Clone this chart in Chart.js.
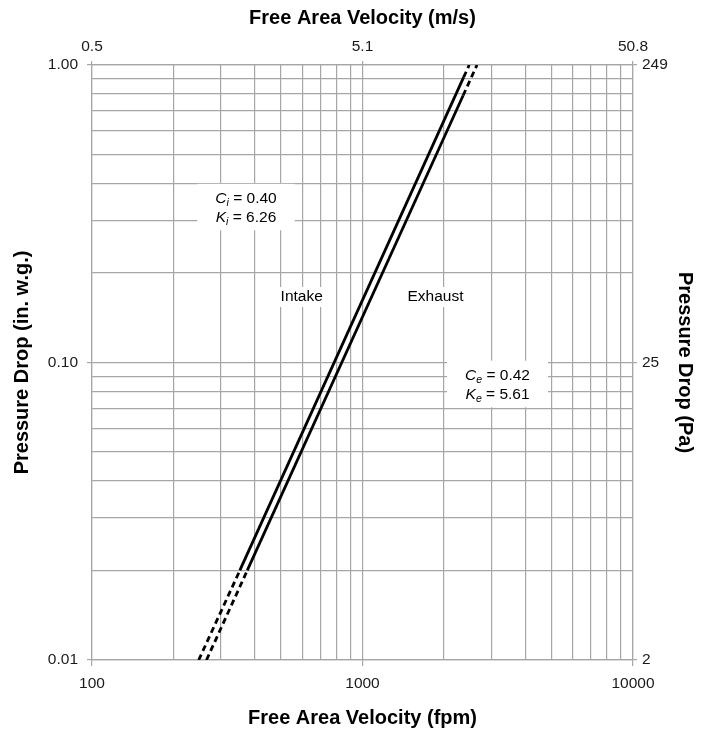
<!DOCTYPE html>
<html>
<head>
<meta charset="utf-8">
<script src="https://cdn.jsdelivr.net/npm/chart.js@4.4.0/dist/chart.umd.min.js"></script>
<style>
html, body { margin: 0; padding: 0; background: #fff; }
#wrap { width: 709px; height: 731px; }
</style>
</head>
<body>
<div id="wrap"><canvas id="chart" width="709" height="731"></canvas></div>
<script>
// Pressure drop vs free area velocity - intake / exhaust louvre curves

// series (fpm, in. w.g.) - first and last segments are dashed
const intakeFpm = [248, 352, 2366, 2480];
const intakeInWg = [0.01, 0.02, 0.91, 1.00];
const exhaustFpm = [265, 375, 2355, 2650];
const exhaustInWg = [0.01, 0.02, 0.79, 1.00];

// grid lines
const xGrid = [100, 200, 300, 400, 500, 600, 700, 800, 900,
    1000, 2000, 3000, 4000, 5000, 6000, 7000, 8000, 9000, 10000];
const yGrid = [0.01, 0.02, 0.03, 0.04, 0.05, 0.06, 0.07, 0.08, 0.09,
    0.1, 0.2, 0.3, 0.4, 0.5, 0.6, 0.7, 0.8, 0.9, 1.0];

// tick labels
const xTickValues = [100, 1000, 10000];
const xTickText = ['100', '1000', '10000'];
const topTickValues = [0.508, 5.08, 50.8];
const topTickText = ['0.5', '5.1', '50.8'];
const yTickValues = [0.01, 0.1, 1];
const yTickText = ['0.01', '0.10', '1.00'];
const rightTickValues = [2.49, 24.9, 249];
const rightTickText = ['2', '25', '249'];

// annotation anchors (fpm, in. w.g.)
const coefNotes = [
    { at: [371, 0.333], rows: [['C', 'i', '0.40'], ['K', 'i', '6.26']] },
    { at: [3157, 0.0847], rows: [['C', 'e', '0.42'], ['K', 'e', '5.61']] }
];
const curveNotes = [
    { at: [596, 0.166], text: 'Intake' },
    { at: [1862, 0.166], text: 'Exhaust' }
];

const FONT = "'Liberation Sans', Arial, Helvetica, sans-serif";
const GRID = '#a6a6a6';
const TXT = 15.5;

function findLabel(vals, texts, v) {
    const i = vals.findIndex(t => Math.abs(t - v) / t < 1e-6);
    return i < 0 ? '' : texts[i];
}

function toPoints(xs, ys) {
    return xs.map((x, i) => ({ x: x, y: ys[i] }));
}

function lineDataset(label, xs, ys) {
    const last = xs.length - 1;
    return {
        label: label,
        data: toPoints(xs, ys),
        borderColor: '#000',
        borderWidth: 2.8,
        pointRadius: 0,
        tension: 0,
        fill: false,
        xAxisID: 'x',
        yAxisID: 'y',
        segment: {
            borderDash: ctx => (ctx.p0DataIndex === 0 || ctx.p1DataIndex === last) ? [6, 4] : []
        }
    };
}

function logAxis(opts) {
    const vals = opts.tickVals, texts = opts.tickText;
    return {
        type: 'logarithmic',
        position: opts.position,
        min: opts.min,
        max: opts.max,
        afterBuildTicks: scale => {
            scale.ticks = opts.grid.map(v => ({ value: v }));
        },
        afterFit: scale => {
            if (opts.width) scale.width = opts.width;
            if (opts.height) scale.height = opts.height;
        },
        ticks: {
            autoSkip: false,
            maxRotation: 0,
            padding: opts.padding,
            color: '#1a1a1a',
            font: { family: FONT, size: TXT },
            callback: v => findLabel(vals, texts, v)
        },
        grid: {
            color: GRID,
            lineWidth: 1.2,
            drawOnChartArea: opts.onArea,
            tickLength: opts.tickLength,
            tickColor: ctx => (ctx.tick && findLabel(vals, texts, ctx.tick.value) !== '') ? GRID : 'rgba(0,0,0,0)'
        },
        border: { color: GRID, width: 1.2 },
        title: {
            display: true,
            text: opts.title,
            color: '#000',
            font: { family: FONT, size: 20, weight: 'bold' },
            padding: opts.titlePad
        }
    };
}

function drawCoef(ctx, cx, cy, rows) {
    const big = TXT + 'px ' + FONT, it = 'italic ' + TXT + 'px ' + FONT, sub = 'italic 10.5px ' + FONT;
    const gap = 18.5;
    const widths = rows.map(r => {
        ctx.font = it; const a = ctx.measureText(r[0]).width;
        ctx.font = sub; const b = ctx.measureText(r[1]).width;
        ctx.font = big; const c = ctx.measureText(' = ' + r[2]).width;
        return [a, b, c];
    });
    const maxW = Math.max(...widths.map(w => w[0] + w[1] + w[2]));
    const top = cy - gap / 2 - 11, bottom = cy + gap / 2 + 11;
    ctx.fillStyle = '#fff';
    ctx.fillRect(cx - maxW / 2 - 18, top - 3, maxW + 36, bottom - top + 6);
    ctx.fillStyle = '#000';
    ctx.textBaseline = 'alphabetic';
    ctx.textAlign = 'left';
    rows.forEach((r, i) => {
        const w = widths[i];
        let x = cx - (w[0] + w[1] + w[2]) / 2;
        const base = cy + (i === 0 ? -gap / 2 : gap / 2) + 5.5;
        ctx.font = it; ctx.fillText(r[0], x, base); x += w[0];
        ctx.font = sub; ctx.fillText(r[1], x, base + 3); x += w[1];
        ctx.font = big; ctx.fillText(' = ' + r[2], x, base);
    });
}

const notesPlugin = {
    id: 'notes',
    beforeDatasetsDraw(chart) {
        const { ctx, scales } = chart;
        const sx = scales.x, sy = scales.y;
        ctx.save();
        coefNotes.forEach(n => {
            drawCoef(ctx, sx.getPixelForValue(n.at[0]), sy.getPixelForValue(n.at[1]), n.rows);
        });
        ctx.font = TXT + 'px ' + FONT;
        curveNotes.forEach(n => {
            const px = sx.getPixelForValue(n.at[0]), py = sy.getPixelForValue(n.at[1]);
            const w = ctx.measureText(n.text).width;
            ctx.fillStyle = '#fff';
            ctx.fillRect(px - w / 2 - 4, py - 10, w + 8, 20);
            ctx.fillStyle = '#000';
            ctx.textAlign = 'center';
            ctx.textBaseline = 'middle';
            ctx.fillText(n.text, px, py);
        });
        ctx.restore();
    }
};

new Chart(document.getElementById('chart'), {
    type: 'line',
    data: {
        datasets: [
            lineDataset('Intake', intakeFpm, intakeInWg),
            lineDataset('Exhaust', exhaustFpm, exhaustInWg)
        ]
    },
    options: {
        responsive: false,
        animation: false,
        layout: { padding: 0 },
        plugins: {
            legend: { display: false },
            tooltip: { enabled: false }
        },
        scales: {
            x: logAxis({ position: 'bottom', min: 100, max: 10000, grid: xGrid,
                tickVals: xTickValues, tickText: xTickText, onArea: true,
                height: 71, tickLength: 6, padding: 8,
                title: 'Free Area Velocity (fpm)', titlePad: { top: 0, bottom: 1 } }),
            x2: logAxis({ position: 'top', min: 0.508, max: 50.8, grid: topTickValues,
                tickVals: topTickValues, tickText: topTickText, onArea: false,
                height: 65, tickLength: 4, padding: 5,
                title: 'Free Area Velocity (m/s)', titlePad: { top: 6, bottom: 0 } }),
            y: logAxis({ position: 'left', min: 0.01, max: 1, grid: yGrid,
                tickVals: yTickValues, tickText: yTickText, onArea: true,
                width: 92, tickLength: 5, padding: 9,
                title: 'Pressure Drop (in. w.g.)', titlePad: { top: 10, bottom: 0 } }),
            y2: logAxis({ position: 'right', min: 2.49, max: 249, grid: rightTickValues,
                tickVals: rightTickValues, tickText: rightTickText, onArea: false,
                width: 76, tickLength: 4, padding: 5,
                title: 'Pressure Drop (Pa)', titlePad: { top: 12, bottom: 0 } })
        }
    },
    plugins: [notesPlugin]
});
</script>
</body>
</html>
